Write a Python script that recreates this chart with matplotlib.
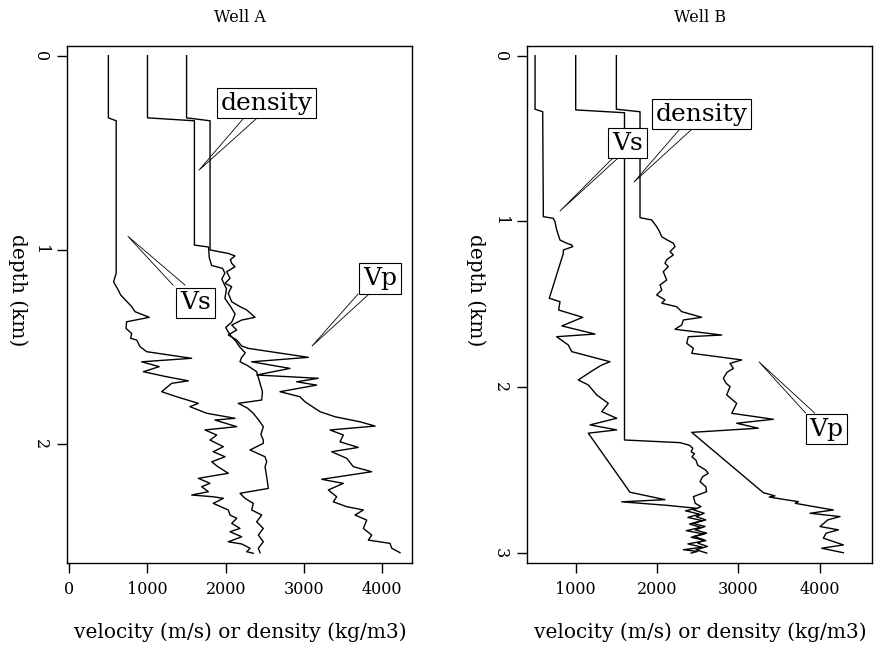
import matplotlib
matplotlib.use('Agg')
import matplotlib.pyplot as plt

plt.rcParams['font.family'] = ['DejaVu Serif']

# ---- Well A logs: (depth km, value) ----
wellA_vs = [(0, 500), (0.32, 500), (0.335, 600), (1.12, 600), (1.164, 566), (1.207, 627),
            (1.232, 657), (1.292, 798), (1.318, 840), (1.347, 1023), (1.370, 733), (1.404, 725),
            (1.430, 798), (1.455, 785), (1.464, 862), (1.498, 904), (1.524, 990), (1.558, 1565),
            (1.576, 926), (1.601, 1150), (1.627, 947), (1.653, 1245), (1.674, 1523), (1.687, 1309),
            (1.730, 1181), (1.756, 1373), (1.790, 1650), (1.807, 1543), (1.841, 1757), (1.867, 2119),
            (1.876, 1863), (1.910, 2141), (1.927, 1735), (1.953, 1885), (1.979, 1799), (2.013, 1970),
            (2.039, 1841), (2.065, 1991), (2.091, 1821), (2.116, 1900), (2.150, 2033), (2.176, 1650),
            (2.202, 1799), (2.219, 1693), (2.245, 1778), (2.262, 1565), (2.271, 1841), (2.279, 1970),
            (2.305, 1841), (2.339, 2033), (2.365, 2055), (2.382, 2141), (2.408, 2077), (2.434, 2183),
            (2.451, 2055), (2.477, 2205), (2.503, 2033), (2.514, 2205), (2.536, 2311), (2.554, 2269),
            (2.562, 2353)]

wellA_rho = [(0, 1000), (0.32, 1000), (0.335, 1600), (0.975, 1600), (0.985, 1780), (1.04, 1790),
             (1.08, 1820), (1.095, 1960), (1.12, 1990), (1.15, 1950), (1.20, 2010), (1.25, 1990),
             (1.29, 2060), (1.33, 2120), (1.37, 2080), (1.40, 2000), (1.44, 2060), (1.47, 2130),
             (1.50, 2180), (1.53, 2250), (1.556, 2200), (1.576, 2183), (1.593, 2269), (1.627, 2396),
             (1.687, 2439), (1.730, 2470), (1.773, 2460), (1.790, 2161), (1.815, 2280), (1.841, 2353),
             (1.875, 2420), (1.910, 2481), (1.950, 2450), (1.979, 2481), (1.996, 2481), (2.030, 2311),
             (2.065, 2503), (2.091, 2524), (2.116, 2503), (2.168, 2524), (2.228, 2545), (2.253, 2183),
             (2.279, 2247), (2.305, 2353), (2.339, 2332), (2.365, 2460), (2.400, 2396), (2.434, 2481),
             (2.468, 2417), (2.503, 2481), (2.536, 2417), (2.559, 2439)]

wellA_vp = [(0, 1500), (0.32, 1500), (0.335, 1800), (1.0, 1800), (1.018, 2033), (1.031, 2119),
            (1.05, 2060), (1.069, 2077), (1.087, 2119), (1.112, 2013), (1.146, 2055), (1.172, 1991),
            (1.189, 2077), (1.224, 2033), (1.267, 2077), (1.292, 2183), (1.309, 2269), (1.347, 2375),
            (1.361, 2205), (1.387, 2077), (1.412, 2141), (1.438, 2033), (1.464, 2141), (1.495, 2205),
            (1.507, 2290), (1.553, 3057), (1.576, 2332), (1.610, 2822), (1.644, 2396), (1.661, 3184),
            (1.679, 2907), (1.696, 3163), (1.730, 2694), (1.756, 2950), (1.782, 3014), (1.816, 3142),
            (1.833, 3206), (1.859, 3398), (1.885, 3718), (1.907, 3910), (1.927, 3334), (1.953, 3504),
            (1.988, 3462), (2.017, 3696), (2.039, 3355), (2.073, 3547), (2.116, 3632), (2.142, 3867),
            (2.181, 3227), (2.202, 3504), (2.236, 3312), (2.271, 3419), (2.297, 3376), (2.322, 3547),
            (2.339, 3760), (2.365, 3653), (2.391, 3803), (2.434, 3760), (2.468, 3867), (2.494, 3824),
            (2.511, 4101), (2.536, 4123), (2.559, 4229)]

# ---- Well B logs ----
wellB_vs = [(0, 500), (0.323, 500), (0.338, 594), (0.971, 602), (0.981, 725), (1.001, 745),
            (1.051, 766), (1.112, 807), (1.131, 889), (1.142, 951), (1.152, 963), (1.172, 848),
            (1.192, 848), (1.463, 675), (1.484, 807), (1.534, 790), (1.578, 1086), (1.63, 830),
            (1.679, 1237), (1.695, 766), (1.745, 909), (1.785, 951), (1.846, 1422), (1.866, 1320),
            (1.896, 1217), (1.956, 1032), (1.986, 1155), (2.046, 1258), (2.097, 1401), (2.147, 1320),
            (2.187, 1504), (2.227, 1176), (2.257, 1504), (2.277, 1155), (2.633, 1667), (2.678, 2098),
            (2.691, 1566), (2.712, 2119), (2.730, 2488), (2.745, 2350), (2.765, 2520), (2.785, 2380),
            (2.805, 2560), (2.825, 2400), (2.845, 2540), (2.865, 2360), (2.885, 2580), (2.905, 2420),
            (2.925, 2600), (2.945, 2380), (2.965, 2560), (2.980, 2324), (2.990, 2500), (3.0, 2420)]

wellB_rho = [(0, 1000), (0.327, 1000), (0.344, 1600), (2.318, 1600), (2.334, 2283), (2.35, 2400),
             (2.368, 2440), (2.39, 2420), (2.40, 2460), (2.42, 2430), (2.44, 2480), (2.47, 2500),
             (2.50, 2600), (2.519, 2630), (2.54, 2560), (2.569, 2529), (2.60, 2600), (2.63, 2611),
             (2.65, 2500), (2.66, 2447), (2.70, 2470), (2.72, 2540), (2.74, 2450), (2.76, 2580),
             (2.78, 2480), (2.80, 2600), (2.82, 2440), (2.84, 2590), (2.86, 2470), (2.88, 2610),
             (2.90, 2450), (2.92, 2580), (2.94, 2500), (2.96, 2620), (2.98, 2480), (3.0, 2611)]

wellB_vp = [(0, 1500), (0.323, 1500), (0.338, 1791), (0.977, 1791), (0.991, 1935), (1.001, 1950),
            (1.031, 1996), (1.06, 2030), (1.092, 2058), (1.11, 2120), (1.131, 2201), (1.152, 2221),
            (1.162, 2200), (1.182, 2160), (1.202, 2201), (1.23, 2120), (1.252, 2098), (1.272, 2139),
            (1.303, 2077), (1.33, 2100), (1.353, 2119), (1.383, 2037), (1.413, 2058), (1.443, 1996),
            (1.473, 2098), (1.493, 2058), (1.514, 2242), (1.544, 2304), (1.578, 2550), (1.594, 2324),
            (1.624, 2304), (1.650, 2221), (1.685, 2796), (1.695, 2385), (1.735, 2365), (1.765, 2447),
            (1.795, 2427), (1.835, 3042), (1.856, 2898), (1.886, 2939), (1.91, 2860), (1.946, 2816),
            (1.976, 2850), (1.996, 2898), (2.046, 2857), (2.097, 2980), (2.157, 2919), (2.193, 3431),
            (2.217, 2980), (2.247, 3246), (2.272, 2427), (2.636, 3308), (2.655, 3450), (2.662, 3380),
            (2.676, 3554), (2.690, 3738), (2.700, 3700), (2.730, 4046), (2.740, 4169), (2.760, 3882),
            (2.780, 4251), (2.800, 4100), (2.840, 4005), (2.860, 4231), (2.880, 4080), (2.910, 4046),
            (2.951, 4292), (2.971, 4026), (2.998, 4292)]

# labels: (text, box centre (value, depth), pointer base 1, pointer base 2, tip)
labelsA = [('density', (2519, 0.244), (2221, 0.326), (2387, 0.326), (1659, 0.589)),
           ('Vs', (1613, 1.273), (1326, 1.181), (1480, 1.181), (750, 0.93)),
           ('Vp', (3973, 1.147), (3692, 1.227), (3833, 1.227), (3104, 1.495))]
labelsB = [('density', (2547, 0.352), (2271, 0.448), (2418, 0.448), (1717, 0.762)),
           ('Vs', (1637, 0.527), (1446, 0.623), (1508, 0.623), (807, 0.937)),
           ('Vp', (4085, 2.252), (3827, 2.155), (3938, 2.155), (3255, 1.847))]

W, H = 883, 645


def draw_well(ax, logs, labels, xlim, ylim, xticks, yticks):
    for log in logs:
        d = [p[0] for p in log]
        v = [p[1] for p in log]
        ax.plot(v, d, color='black', lw=1.0)
    for text, c, b1, b2, tip in labels:
        ax.plot([b1[0], tip[0], b2[0]], [b1[1], tip[1], b2[1]], color='black', lw=0.6)
        ax.text(c[0], c[1], text, ha='center', va='center', fontsize=18, zorder=5,
                bbox=dict(boxstyle='square,pad=0.15', fc='white', ec='black', lw=0.8))
    ax.set_xlim(*xlim)
    ax.set_ylim(*ylim)
    ax.set_xticks(xticks)
    ax.set_yticks(yticks)
    ax.set_yticklabels([str(t) for t in yticks], rotation=-90, va='center')
    ax.tick_params(direction='out', length=7, width=1, labelsize=11.5, pad=6)
    for s in ax.spines.values():
        s.set_linewidth(1.0)


fig = plt.figure(figsize=(W / 100, H / 100), dpi=100)
axA = fig.add_axes([67 / W, 1 - 563 / H, 345 / W, 517 / H])
axB = fig.add_axes([527 / W, 1 - 563 / H, 345 / W, 517 / H])

draw_well(axA, [wellA_vs, wellA_rho, wellA_vp], labelsA, (-29, 4382), (2.612, -0.05),
          [0, 1000, 2000, 3000, 4000], [0, 1, 2])
draw_well(axB, [wellB_vs, wellB_rho, wellB_vp], labelsB, (401, 4644), (3.06, -0.0585),
          [1000, 2000, 3000, 4000], [0, 1, 2, 3])

for cx, title in [(240, 'Well A'), (700, 'Well B')]:
    fig.text(cx / W, 1 - 17 / H, title, ha='center', va='center', fontsize=11.5)
    fig.text(cx / W, 1 - 632 / H, 'velocity (m/s) or density (kg/m3)', ha='center',
             va='center', fontsize=14.5)
for lx in [18, 476]:
    fig.text(lx / W, 1 - 290 / H, 'depth (km)', ha='center', va='center', rotation=-90,
             fontsize=14.5)

fig.savefig('out.png', dpi=100)
